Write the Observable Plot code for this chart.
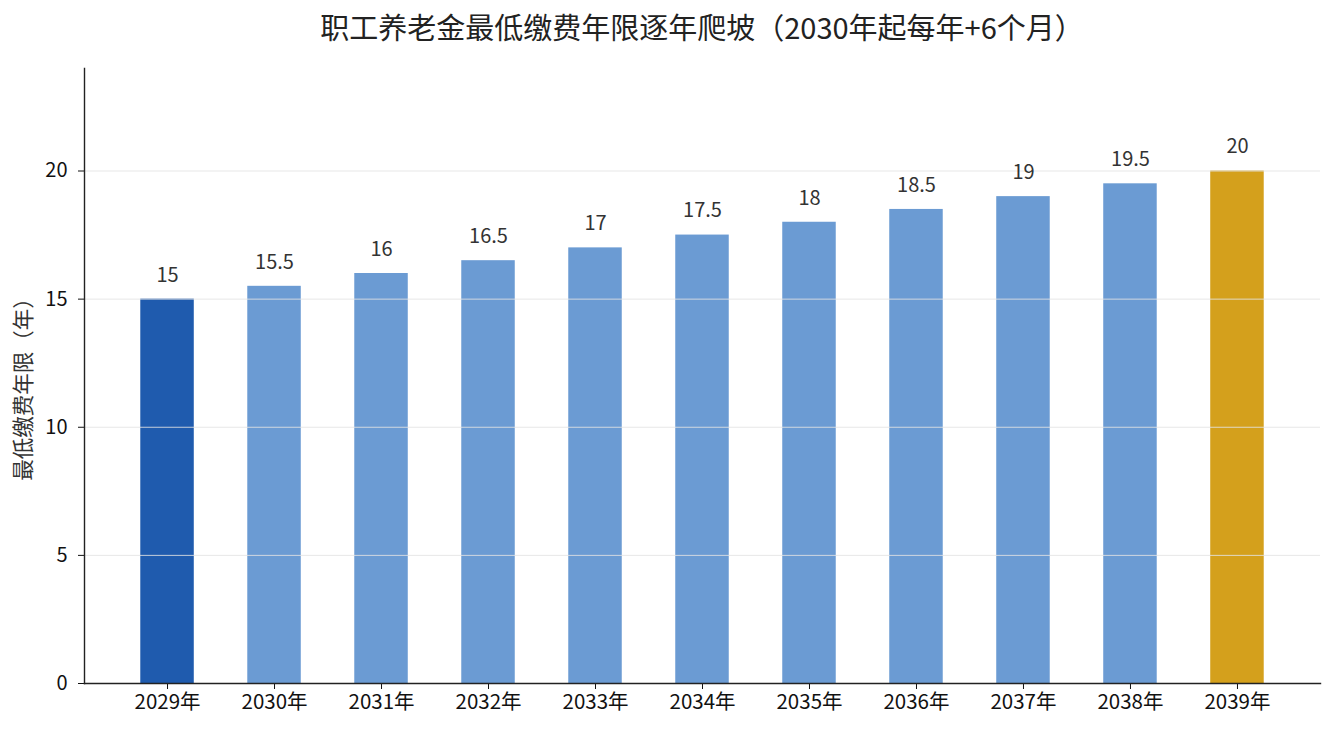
<!DOCTYPE html>
<html>
<head>
<meta charset="utf-8">
<script src="https://cdn.jsdelivr.net/npm/d3@7"></script>
<script src="https://cdn.jsdelivr.net/npm/@observablehq/plot@0.6"></script>
<style>
  html, body { margin: 0; padding: 0; background: #fff; }
  body { width: 1335px; height: 735px; overflow: hidden; font-family: "Noto Sans CJK SC", "Noto Sans", sans-serif; }
  #title { height: 56px; line-height: 52px; text-align: center; font-size: 29px; color: #222; padding-left: 84px; padding-right: 15px; box-sizing: border-box; white-space: nowrap; }
  svg { display: block; }
</style>
</head>
<body>
<div id="title">职工养老金最低缴费年限逐年爬坡（2030年起每年+6个月）</div>
<div id="chart"></div>
<script>
const years = ["2029年","2030年","2031年","2032年","2033年","2034年","2035年","2036年","2037年","2038年","2039年"];
const minYears = [15, 15.5, 16, 16.5, 17, 17.5, 18, 18.5, 19, 19.5, 20];
const yTicks = [0, 5, 10, 15, 20];
const yLabel = "最低缴费年限（年）";

const data = years.map((y, i) => ({
  year: y,
  value: minYears[i],
  kind: i === 0 ? "start" : (i === years.length - 1 ? "end" : "mid")
}));

const chart = Plot.plot({
  width: 1335,
  height: 679,
  marginTop: 12,
  marginLeft: 84,
  marginRight: 15,
  marginBottom: 52,
  style: { fontFamily: "'Noto Sans CJK SC', sans-serif", fontSize: "20px", color: "#111", background: "#fff" },
  x: { domain: years, paddingInner: 0.5, paddingOuter: 0.526, round: false, label: null },
  y: { domain: [0, 24], label: null },
  color: { domain: ["start", "mid", "end"], range: ["#1f5bae", "#6b9bd3", "#d4a01c"] },
  marks: [
    Plot.barY(data, { x: "year", y: "value", fill: d => d.kind }),
    Plot.gridY(yTicks.filter(t => t > 0), { stroke: "#e3e3e3", strokeOpacity: 0.85, strokeWidth: 1 }),
    Plot.text(data, { x: "year", y: "value", text: d => String(d.value), dy: -24, fill: "#333", fontSize: 20 }),
    Plot.axisY({ ticks: yTicks, tickSize: 6, tickPadding: 11, fontSize: 20, label: null }),
    Plot.axisX({ tickSize: 6, tickPadding: 5, fontSize: 20.5, label: null }),
    Plot.text([yLabel], { frameAnchor: "left", textAnchor: "middle", text: d => d, rotate: -90, dx: -60, dy: 8, fontSize: 21.5, fill: "#333" }),
    Plot.frame({ anchor: "bottom", stroke: "#222", strokeWidth: 1.4 }),
    Plot.frame({ anchor: "left", stroke: "#222", strokeWidth: 1.4 })
  ]
});
document.getElementById("chart").appendChild(chart);
</script>
</body>
</html>
